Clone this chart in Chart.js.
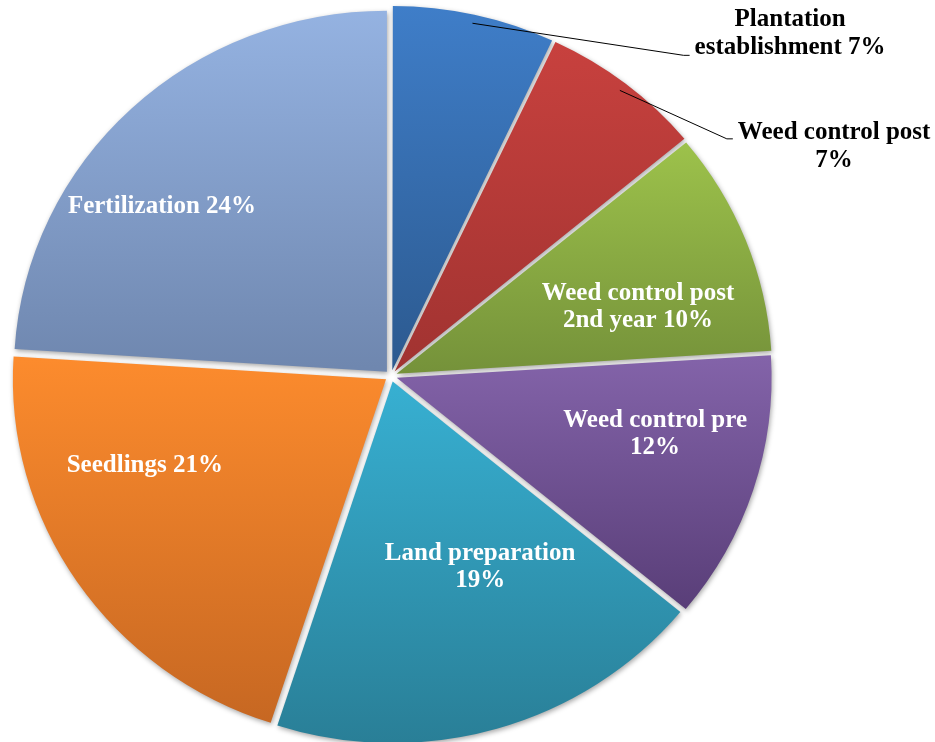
<!DOCTYPE html>
<html>
<head>
<meta charset="utf-8">
<script src="https://cdn.jsdelivr.net/npm/chart.js@4.4.1/dist/chart.umd.min.js"></script>
<style>
  html, body { margin: 0; padding: 0; background: #ffffff; }
  #wrap { width: 935px; height: 742px; position: relative; }
</style>
</head>
<body>
<div id="wrap"><canvas id="c"></canvas></div>
<script>
// ---- data ----
const categories = [
  'Plantation establishment',
  'Weed control post',
  'Weed control post 2nd year',
  'Weed control pre',
  'Land preparation',
  'Seedlings',
  'Fertilization'
];
const values = [7, 7, 10, 12, 19, 21, 24];
const labelLines = [
  ['Plantation', 'establishment 7%'],
  ['Weed control post', '7%'],
  ['Weed control post', '2nd year 10%'],
  ['Weed control pre', '12%'],
  ['Land preparation', '19%'],
  ['Seedlings 21%'],
  ['Fertilization 24%']
];

// ---- styles ----
const colorsTop    = ['#3F7EC9', '#C8413E', '#9DC24B', '#8363A9', '#37AFD1', '#FC8B2D', '#95B3E2'];
const colorsBottom = ['#2C5A90', '#A13331', '#75923A', '#593E78', '#297E96', '#C66722', '#6F87AF'];
const labelColors  = ['#000', '#000', '#fff', '#fff', '#fff', '#fff', '#fff'];

// ---- layout ----
const RADIUS = 373;      // horizontal radius in px
const SCALE_Y = 0.968;   // vertical squash of the picture
const OFFSET = 24;       // Chart.js arc offset (translates offset/4 px)
const LABEL_FONT = 'bold 25px "Liberation Serif", "Times New Roman", serif';
const LINE_H = 27.5;
// label centre offsets as fractions of radius (screen space)
const labelPos = [
  [1.070, -0.918], [1.188, -0.615], [0.662, -0.185], [0.708, 0.155],
  [0.239, 0.512], [-0.660, 0.239], [-0.614, -0.453]
];
// leader lines: which text line they attach to and vertical offset
const leaders = { 0: { line: 1, dy: 8 }, 1: { line: 0, dy: 6 } };

function centre(chart) {
  const ca = chart.chartArea;
  return { cx: (ca.left + ca.right) / 2, cy: (ca.top + ca.bottom) / 2 };
}

function sliceAngles(i) {
  const total = values.reduce((a, b) => a + b, 0);
  let cum = 0;
  for (let k = 0; k < i; k++) cum += values[k];
  const a0 = -Math.PI / 2 + cum / total * 2 * Math.PI;
  const a1 = a0 + values[i] / total * 2 * Math.PI;
  return [a0, a1];
}

function gradientFor(context) {
  const chart = context.chart;
  const i = context.dataIndex;
  if (!chart.chartArea || i === undefined) return colorsTop[i] || '#888';
  const { cy } = centre(chart);
  const [a0, a1] = sliceAngles(i);
  const mid = (a0 + a1) / 2;
  const t = OFFSET / 4;
  const ty = Math.sin(mid) * t;
  let yMin = cy + ty, yMax = cy + ty;
  for (let s = 0; s <= 60; s++) {
    const a = a0 + (a1 - a0) * s / 60;
    const y = cy + ty + RADIUS * Math.sin(a);
    yMin = Math.min(yMin, y); yMax = Math.max(yMax, y);
  }
  const g = chart.ctx.createLinearGradient(0, yMin, 0, yMax);
  g.addColorStop(0, colorsTop[i]);
  g.addColorStop(1, colorsBottom[i]);
  return g;
}

const shapePlugin = {
  id: 'shape',
  beforeDatasetsDraw(chart) {
    const ctx = chart.ctx;
    const { cx, cy } = centre(chart);
    ctx.save();
    ctx.translate(cx, cy);
    ctx.scale(1, SCALE_Y);
    ctx.translate(-cx, -cy);
    ctx.shadowColor = 'rgba(0,0,0,0.35)';
    ctx.shadowBlur = 5;
    ctx.shadowOffsetX = 1;
    ctx.shadowOffsetY = 2;
  },
  afterDatasetsDraw(chart) {
    const ctx = chart.ctx;
    ctx.restore();
    const { cx, cy } = centre(chart);
    const meta = chart.getDatasetMeta(0);
    ctx.save();
    ctx.font = LABEL_FONT;
    ctx.textAlign = 'center';
    ctx.textBaseline = 'middle';
    meta.data.forEach((arc, i) => {
      const lines = labelLines[i];
      const lx = cx + labelPos[i][0] * RADIUS;
      const ly = cy + labelPos[i][1] * RADIUS;
      const y0 = ly - (lines.length - 1) * LINE_H / 2;
      ctx.fillStyle = labelColors[i];
      lines.forEach((t, k) => ctx.fillText(t, lx, y0 + k * LINE_H));
      if (leaders[i]) {
        const p = arc.getProps(['x', 'y', 'startAngle', 'endAngle', 'outerRadius'], true);
        const mid = (p.startAngle + p.endAngle) / 2;
        const t = OFFSET / 4;
        const r = p.outerRadius * 0.985;
        const sx = p.x + Math.cos(mid) * (t + r);
        const sy = cy + (p.y - cy + Math.sin(mid) * (t + r)) * SCALE_Y;
        const L = leaders[i];
        const w = ctx.measureText(lines[L.line]).width;
        const ex = lx - w / 2 - 5;
        const ey = y0 + L.line * LINE_H + L.dy;
        ctx.beginPath();
        ctx.strokeStyle = '#000';
        ctx.lineWidth = 1;
        ctx.moveTo(sx, sy);
        ctx.lineTo(ex - 6, ey);
        ctx.lineTo(ex, ey);
        ctx.stroke();
      }
    });
    ctx.restore();
  }
};

new Chart(document.getElementById('c'), {
  type: 'pie',
  data: {
    labels: categories,
    datasets: [{
      data: values,
      backgroundColor: gradientFor,
      borderWidth: 0,
      offset: OFFSET,
      hoverOffset: OFFSET,
      clip: false
    }]
  },
  options: {
    responsive: true,
    maintainAspectRatio: false,
    animation: false,
    events: [],
    radius: RADIUS,
    layout: { padding: { left: 0, right: 153, top: 10, bottom: 0 } },
    plugins: { legend: { display: false }, tooltip: { enabled: false } }
  },
  plugins: [shapePlugin]
});
</script>
</body>
</html>
